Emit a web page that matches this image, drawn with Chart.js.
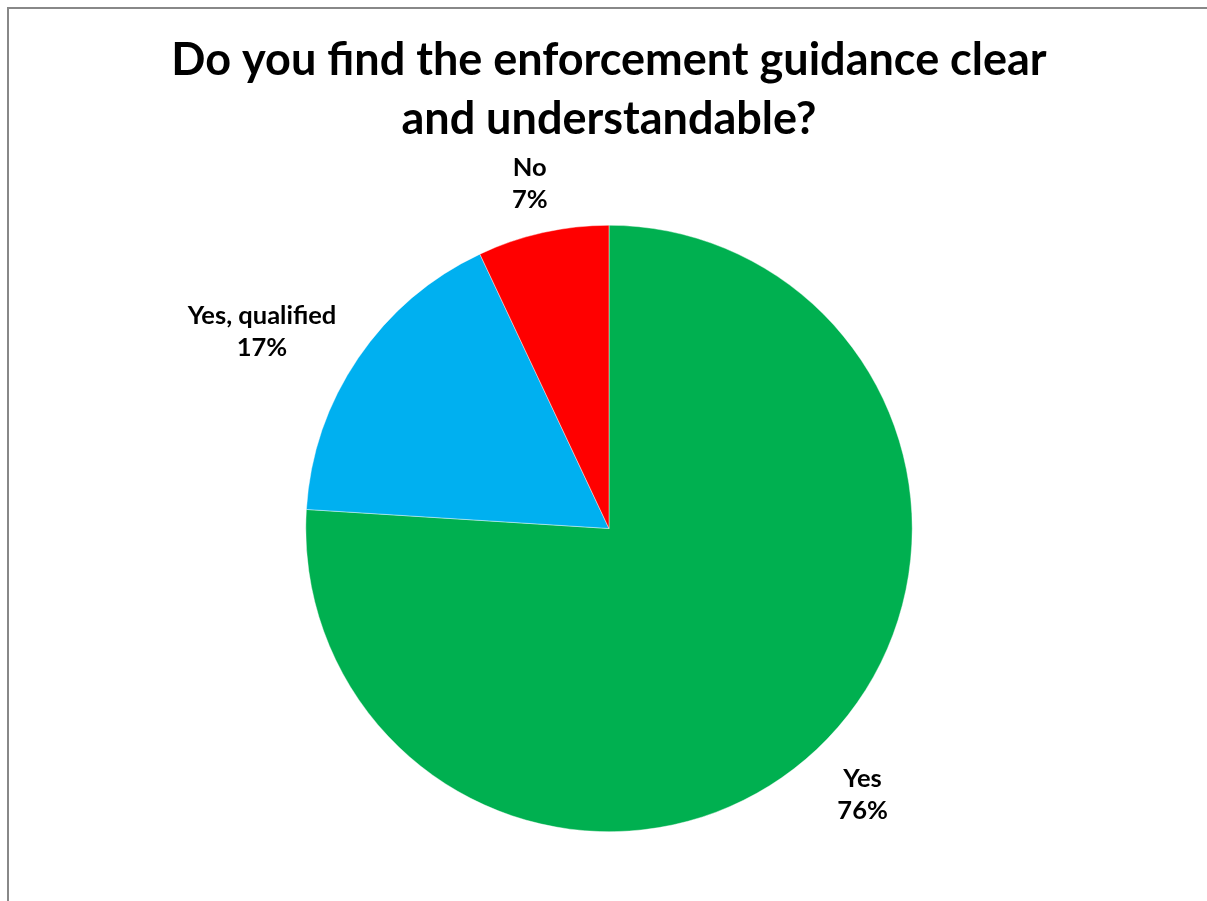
<!DOCTYPE html>
<html lang="en">
<head>
    <meta charset="UTF-8">
    <title>Enforcement guidance</title>
    <style>
        body { margin: 0; background: #fff; }
        .frame {
            position: absolute; left: 7px; top: 7px; width: 1300px; height: 1000px;
            border-left: 2px solid #888; border-top: 2px solid #888;
        }
        #pieChart { position: absolute; left: 0; top: 0; }
    </style>
</head>
<body>
    <div class="frame"></div>
    <canvas id="pieChart" width="1207" height="901"></canvas>

    <script src="https://cdn.jsdelivr.net/npm/chart.js"></script>
    <script>
const titleLines = ['Do you find the enforcement guidance clear', 'and understandable?'];
const categories = ['Yes', 'Yes, qualified', 'No'];
const shares = [76, 17, 7];
const sliceColors = ['#00B050', '#00B0F0', '#FF0000'];

const labelFont = 'bold 25.5px Lato';
const labelLineH = 32;

// labels drawn outside the slices, like Excel's "outside end"
const outsideLabels = {
    id: 'outsideLabels',
    afterDatasetsDraw(chart) {
        const ctx = chart.ctx;
        const arcs = chart.getDatasetMeta(0).data;
        ctx.save();
        ctx.font = labelFont;
        ctx.fillStyle = '#000';
        ctx.textAlign = 'center';
        ctx.textBaseline = 'middle';
        arcs.forEach((arc, i) => {
            const mid = (arc.startAngle + arc.endAngle) / 2;
            const dx = Math.cos(mid), dy = Math.sin(mid);
            const lines = [categories[i], shares[i] + '%'];
            const hw = Math.max(...lines.map(t => ctx.measureText(t).width)) / 2;
            const hh = 25;
            const cx = arc.x + dx * (arc.outerRadius + 42 + hw);
            const cy = arc.y + dy * (arc.outerRadius + 30 + hh) + 5;
            lines.forEach((t, k) => {
                ctx.fillText(t, cx, cy + labelLineH * (k - (lines.length - 1) / 2));
            });
        });
        ctx.restore();
    }
};

new Chart(document.getElementById('pieChart').getContext('2d'), {
    type: 'pie',
    data: {
        labels: categories,
        datasets: [{
            data: shares,
            backgroundColor: sliceColors,
            borderColor: 'rgba(255,255,255,0.7)',
            borderWidth: 0.6
        }]
    },
    options: {
        responsive: false,
        devicePixelRatio: 1,
        animation: false,
        layout: { padding: { left: 11, right: 0, top: 0, bottom: 69 } },
        plugins: {
            legend: { display: false },
            tooltip: { enabled: false },
            title: {
                display: true,
                text: titleLines,
                color: '#000',
                font: { family: 'Lato', size: 45, weight: 'bold', lineHeight: 1.333 },
                padding: { top: 30, bottom: 75 }
            }
        }
    },
    plugins: [outsideLabels]
});
    </script>
</body>
</html>
